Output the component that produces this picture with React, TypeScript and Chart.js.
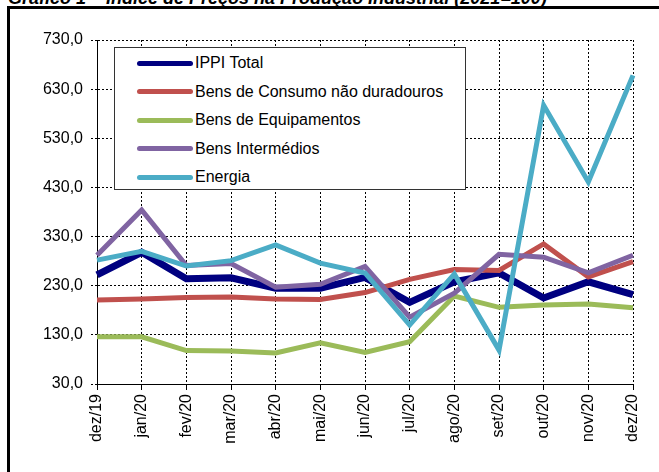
import React, { useEffect, useRef } from "react";
import { Chart, registerables } from "chart.js";

Chart.register(...registerables);

const TITLE = "Gráfico 1 – Índice de Preços na Produção Industrial (2021=100)";

const months = ["dez/19", "jan/20", "fev/20", "mar/20", "abr/20", "mai/20", "jun/20", "jul/20", "ago/20", "set/20", "out/20", "nov/20", "dez/20"];

const ippiTotal = [252, 298, 244, 246, 225, 225, 247, 196, 238, 256, 205, 238, 212];
const bensConsumo = [201, 203, 206, 207, 203, 202, 216, 243, 263, 261, 315, 248, 279];
const bensEquipamentos = [126, 126, 98, 97, 93, 114, 94, 116, 209, 186, 191, 193, 185];
const bensIntermedios = [292, 384, 271, 275, 227, 233, 269, 166, 215, 294, 288, 256, 292];
const energia = [282, 300, 270, 281, 313, 276, 256, 150, 254, 99, 597, 441, 658];

const seriesNames = ["IPPI Total", "Bens de Consumo não duradouros", "Bens de Equipamentos", "Bens Intermédios", "Energia"];
const seriesColors = ["#000080", "#C0504D", "#9BBB59", "#8064A2", "#4BACC6"];
const seriesWidths = [7, 5, 5, 5, 5];
const seriesValues = [ippiTotal, bensConsumo, bensEquipamentos, bensIntermedios, energia];

const Y_MIN = 30;
const Y_MAX = 730;
const Y_STEP = 100;

const FONT = '"Liberation Sans", Arial, sans-serif';

export default function App() {
  const canvasRef = useRef<HTMLCanvasElement | null>(null);

  useEffect(() => {
    if (!canvasRef.current) return;
    const chart = new Chart(canvasRef.current, {
      type: "line",
      data: {
        labels: months,
        datasets: seriesNames.map((name, i) => ({
          label: name,
          data: seriesValues[i],
          borderColor: seriesColors[i],
          backgroundColor: seriesColors[i],
          borderWidth: seriesWidths[i],
          pointRadius: 0,
          pointHoverRadius: 0,
          tension: 0,
          fill: false,
          order: seriesNames.length - 1 - i,
        })),
      },
      options: {
        animation: false,
        responsive: false,
        events: [],
        layout: { padding: { left: 0, right: 26, top: 40, bottom: 0 } },
        plugins: {
          legend: { display: false },
          tooltip: { enabled: false },
          title: { display: false },
        },
        scales: {
          x: {
            type: "category",
            offset: false,
            afterFit: (scale: any) => {
              scale.height = 88;
            },
            grid: {
              color: "#000",
              lineWidth: 1,
              drawTicks: true,
              tickLength: 6,
              tickColor: "#000",
              tickBorderDash: [],
            },
            border: { display: true, color: "#000", width: 1, dash: [2, 2] },
            ticks: {
              autoSkip: false,
              maxRotation: 90,
              minRotation: 90,
              padding: 4,
              color: "#000",
              font: { family: FONT, size: 16 },
            },
          },
          y: {
            type: "linear",
            min: Y_MIN,
            max: Y_MAX,
            afterFit: (scale: any) => {
              scale.width = 97;
            },
            grid: {
              color: "#000",
              lineWidth: 1,
              drawTicks: true,
              tickLength: 6,
              tickColor: "#000",
              tickBorderDash: [2, 2],
            },
            border: { display: true, color: "#000", width: 1, dash: [2, 2] },
            ticks: {
              stepSize: Y_STEP,
              padding: 8,
              color: "#000",
              font: { family: FONT, size: 16 },
              callback: (v: any) => Number(v).toFixed(1).replace(".", ","),
            },
          },
        },
      },
    });
    return () => chart.destroy();
  }, []);

  return (
    <div style={{ position: "absolute", left: 0, top: 0, width: 659, height: 472, overflow: "hidden", background: "#fff" }}>
      <div
        style={{
          position: "absolute",
          left: 8,
          top: -11,
          fontFamily: FONT,
          fontWeight: "bold",
          fontStyle: "italic",
          fontSize: 18,
          lineHeight: "18px",
          whiteSpace: "nowrap",
          color: "#000",
        }}
      >
        {TITLE}
      </div>
      <div
        style={{
          position: "absolute",
          left: 7,
          top: 6,
          width: 680,
          height: 500,
          borderLeft: "3px solid #000",
          borderTop: "3px solid #000",
          boxSizing: "border-box",
        }}
      />
      <canvas ref={canvasRef} width={659} height={472} style={{ position: "absolute", left: 0, top: 0 }} />
      <div
        style={{
          position: "absolute",
          left: 114,
          top: 47,
          width: 352,
          height: 143,
          boxSizing: "border-box",
          border: "1px solid #333",
          background: "#fff",
        }}
      >
        {seriesNames.map((name, i) => (
          <div key={name} style={{ position: "absolute", left: 0, top: 15 + i * 28.5 - 10, height: 20, width: 350 }}>
            <div
              style={{
                position: "absolute",
                left: 22,
                top: 7.5,
                width: 56,
                height: 5,
                borderRadius: 3,
                background: seriesColors[i],
              }}
            />
            <div
              style={{
                position: "absolute",
                left: 80,
                top: 0,
                fontFamily: FONT,
                fontSize: 16,
                lineHeight: "20px",
                color: "#000",
                whiteSpace: "nowrap",
              }}
            >
              {name}
            </div>
          </div>
        ))}
      </div>
    </div>
  );
}
